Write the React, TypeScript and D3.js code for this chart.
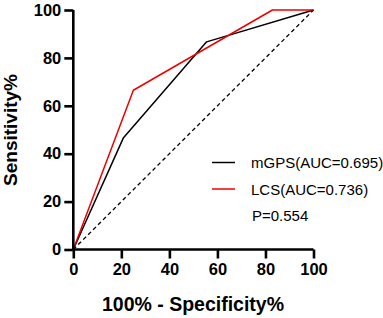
import React, { useEffect, useRef } from "react";
import * as d3 from "d3";

const xTicks = [0, 20, 40, 60, 80, 100];
const yTicks = [0, 20, 40, 60, 80, 100];
const mgpsX = [0, 20.9, 55.5, 100];
const mgpsY = [0, 46.7, 86.7, 100];
const lcsX = [0, 25, 82.9, 100];
const lcsY = [0, 66.5, 100, 100];
const refX = [0, 100];
const refY = [0, 100];
const seriesNames = ["mGPS(AUC=0.695)", "LCS(AUC=0.736)"];
const seriesColors = ["#000000", "#ee0000"];
const pText = "P=0.554";
const xTitle = "100% - Specificity%";
const yTitle = "Sensitivity%";

const W = 383;
const H = 318;
const FONT = "'Liberation Sans', Arial, Helvetica, sans-serif";

export default function App() {
  const ref = useRef<SVGSVGElement>(null);
  useEffect(() => {
    const svg = d3.select(ref.current);
    svg.selectAll("*").remove();
    const x = d3.scaleLinear().domain([0, 100]).range([73.3, 313.5]);
    const y = d3.scaleLinear().domain([0, 100]).range([249.5, 10]);

    const line = d3
      .line<[number, number]>()
      .x((d) => x(d[0]))
      .y((d) => y(d[1]));

    svg
      .append("path")
      .attr("d", line(refX.map((v, i) => [v, refY[i]]) as [number, number][]))
      .attr("fill", "none")
      .attr("stroke", "#000")
      .attr("stroke-width", 1.3)
      .attr("stroke-dasharray", "4,3");

    const series = [
      mgpsX.map((v, i) => [v, mgpsY[i]]),
      lcsX.map((v, i) => [v, lcsY[i]]),
    ] as [number, number][][];

    series.forEach((s, i) => {
      svg
        .append("path")
        .attr("d", line(s))
        .attr("fill", "none")
        .attr("stroke", seriesColors[i])
        .attr("stroke-width", 1.5)
        .attr("stroke-linejoin", "round");
    });

    const xAxis = svg
      .append("g")
      .attr("transform", `translate(0,${y(0)})`)
      .call(d3.axisBottom(x).tickValues(xTicks).tickSize(9).tickSizeOuter(0).tickPadding(5));
    const yAxis = svg
      .append("g")
      .attr("transform", `translate(${x(0)},0)`)
      .call(d3.axisLeft(y).tickValues(yTicks).tickSize(9).tickSizeOuter(0).tickPadding(3));

    [xAxis, yAxis].forEach((g) => {
      g.select(".domain").attr("stroke", "#000").attr("stroke-width", 2.6);
      g.selectAll(".tick line").attr("stroke", "#000").attr("stroke-width", 2.6);
      g.selectAll(".tick text")
        .attr("fill", "#000")
        .style("font-family", FONT)
        .style("font-size", "16.5px")
        .style("font-weight", "bold");
    });
    xAxis.select(".domain").attr("d", `M${x(0) - 1.3},0H${x(100)}`);
    yAxis.select(".domain").attr("d", `M0,${y(0) + 1.3}V${y(100)}`);

    svg
      .append("text")
      .attr("x", 193)
      .attr("y", 311)
      .attr("text-anchor", "middle")
      .style("font-family", FONT)
      .style("font-size", "19.5px")
      .style("font-weight", "bold")
      .text(xTitle);
    svg
      .append("text")
      .attr("transform", `translate(17,130) rotate(-90)`)
      .attr("text-anchor", "middle")
      .style("font-family", FONT)
      .style("font-size", "19px")
      .style("font-weight", "bold")
      .text(yTitle);

    const legY = [162.5, 189];
    seriesNames.forEach((name, i) => {
      svg
        .append("line")
        .attr("x1", 212)
        .attr("x2", 235)
        .attr("y1", legY[i])
        .attr("y2", legY[i])
        .attr("stroke", seriesColors[i])
        .attr("stroke-width", 1.5);
      svg
        .append("text")
        .attr("x", 251)
        .attr("y", legY[i] + 5.5)
        .style("font-family", FONT)
        .style("font-size", "15px")
        .attr("fill", "#000")
        .text(name);
    });
    svg
      .append("text")
      .attr("x", 252)
      .attr("y", 220.5)
      .style("font-family", FONT)
      .style("font-size", "15px")
      .attr("fill", "#000")
      .text(pText);
  }, []);

  return (
    <svg
      ref={ref}
      width={W}
      height={H}
      style={{ position: "absolute", left: 0, top: 0, background: "#fff" }}
    />
  );
}
